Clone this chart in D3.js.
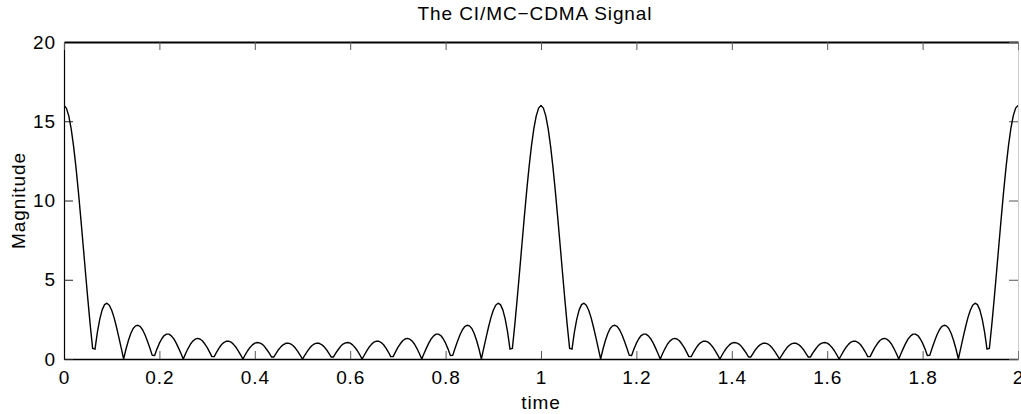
<!DOCTYPE html>
<html>
<head>
<meta charset="utf-8">
<script src="https://cdn.jsdelivr.net/npm/d3@7"></script>
<style>
  html, body { margin: 0; padding: 0; background: #fff; }
  svg { display: block; font-family: "Liberation Sans", Arial, Helvetica, sans-serif; }
  svg text { letter-spacing: 0.9px; }
  .tick text { font-size: 19px; fill: #000; }
</style>
</head>
<body>
<div id="chart"></div>
<script>
// signal magnitude (one sample every timeStep)
const timeStep = 0.005;
const magnitude = [
  16.00,15.83,15.34,14.53,13.45,12.12,10.61,8.95,7.22,5.47,3.76,
  2.14,0.67,0.62,1.69,2.52,3.10,3.43,3.52,3.39,3.08,
  2.61,2.02,1.36,0.68,0,0.63,1.17,1.61,1.92,2.09,
  2.13,2.04,1.83,1.51,1.12,0.69,0.23,0.22,0.64,1.00,
  1.28,1.48,1.57,1.57,1.46,1.28,1.02,0.70,0.36,0,
  0.35,0.66,0.93,1.13,1.25,1.30,1.26,1.15,0.96,0.73,
  0.45,0.15,0.15,0.44,0.69,0.90,1.04,1.12,1.13,1.07,
  0.94,0.76,0.53,0.27,0,0.27,0.52,0.73,0.89,1.00,
  1.04,1.02,0.94,0.80,0.60,0.38,0.13,0.13,0.37,0.60,
  0.78,0.91,0.99,1.00,0.95,0.85,0.69,0.48,0.25,0,
  0.25,0.48,0.69,0.85,0.95,1.00,0.99,0.91,0.78,0.60,
  0.37,0.13,0.13,0.38,0.60,0.80,0.94,1.02,1.04,1.00,
  0.89,0.73,0.52,0.27,0,0.27,0.53,0.76,0.94,1.07,
  1.13,1.12,1.04,0.90,0.69,0.44,0.15,0.15,0.45,0.73,
  0.96,1.15,1.26,1.30,1.25,1.13,0.93,0.66,0.35,0,
  0.36,0.70,1.02,1.28,1.46,1.57,1.57,1.48,1.28,1.00,
  0.64,0.22,0.23,0.69,1.12,1.51,1.83,2.04,2.13,2.09,
  1.92,1.61,1.17,0.63,0,0.68,1.36,2.02,2.61,3.08,
  3.39,3.52,3.43,3.10,2.52,1.69,0.62,0.67,2.14,3.76,
  5.47,7.22,8.95,10.61,12.12,13.45,14.53,15.34,15.83,16.00,
  15.83,15.34,14.53,13.45,12.12,10.61,8.95,7.22,5.47,3.76,
  2.14,0.67,0.62,1.69,2.52,3.10,3.43,3.52,3.39,3.08,
  2.61,2.02,1.36,0.68,0,0.63,1.17,1.61,1.92,2.09,
  2.13,2.04,1.83,1.51,1.12,0.69,0.23,0.22,0.64,1.00,
  1.28,1.48,1.57,1.57,1.46,1.28,1.02,0.70,0.36,0,
  0.35,0.66,0.93,1.13,1.25,1.30,1.26,1.15,0.96,0.73,
  0.45,0.15,0.15,0.44,0.69,0.90,1.04,1.12,1.13,1.07,
  0.94,0.76,0.53,0.27,0,0.27,0.52,0.73,0.89,1.00,
  1.04,1.02,0.94,0.80,0.60,0.38,0.13,0.13,0.37,0.60,
  0.78,0.91,0.99,1.00,0.95,0.85,0.69,0.48,0.25,0,
  0.25,0.48,0.69,0.85,0.95,1.00,0.99,0.91,0.78,0.60,
  0.37,0.13,0.13,0.38,0.60,0.80,0.94,1.02,1.04,1.00,
  0.89,0.73,0.52,0.27,0,0.27,0.53,0.76,0.94,1.07,
  1.13,1.12,1.04,0.90,0.69,0.44,0.15,0.15,0.45,0.73,
  0.96,1.15,1.26,1.30,1.25,1.13,0.93,0.66,0.35,0,
  0.36,0.70,1.02,1.28,1.46,1.57,1.57,1.48,1.28,1.00,
  0.64,0.22,0.23,0.69,1.12,1.51,1.83,2.04,2.13,2.09,
  1.92,1.61,1.17,0.63,0,0.68,1.36,2.02,2.61,3.08,
  3.39,3.52,3.43,3.10,2.52,1.69,0.62,0.67,2.14,3.76,
  5.47,7.22,8.95,10.61,12.12,13.45,14.53,15.34,15.83,16.00
];

const xTicks = [0, 0.2, 0.4, 0.6, 0.8, 1, 1.2, 1.4, 1.6, 1.8, 2];
const xTickLabels = ["0", "0.2", "0.4", "0.6", "0.8", "1", "1.2", "1.4", "1.6", "1.8", "2"];
const yTicks = [0, 5, 10, 15, 20];
const yTickLabels = ["0", "5", "10", "15", "20"];

const chartTitle = "The CI/MC\u2212CDMA Signal";
const xTitle = "time";
const yTitle = "Magnitude";

const W = 1021, H = 414;
const margin = {top: 42, right: 3, bottom: 55, left: 64};
const width = W - margin.left - margin.right;
const height = H - margin.top - margin.bottom;

const svg = d3.select("#chart").append("svg")
    .attr("width", W)
    .attr("height", H);

const g = svg.append("g")
    .attr("transform", `translate(${margin.left},${margin.top})`);

const x = d3.scaleLinear().domain([0, 2]).range([0, width]);
const y = d3.scaleLinear().domain([0, 20]).range([height, 0]);

// axes, matlab style: ticks point inward, box all round
const bottomAxis = d3.axisBottom(x).tickValues(xTicks)
    .tickFormat((d, i) => xTickLabels[i]).tickSizeInner(-8).tickSizeOuter(0).tickPadding(12);
const leftAxis = d3.axisLeft(y).tickValues(yTicks)
    .tickFormat((d, i) => yTickLabels[i]).tickSizeInner(-9).tickSizeOuter(0).tickPadding(8);

const gx = g.append("g").attr("transform", `translate(0,${height})`).call(bottomAxis);
const gy = g.append("g").call(leftAxis);
gx.select(".domain").attr("stroke", "#000").attr("stroke-width", 1.4);
gy.select(".domain").attr("stroke", "#000").attr("stroke-width", 1.2);
gx.selectAll(".tick line").attr("stroke", "#555");
gy.selectAll(".tick line").attr("stroke", "#222");

// top and right ticks
const topAxis = d3.axisTop(x).tickValues(xTicks).tickFormat("").tickSizeInner(-8).tickSizeOuter(0);
const rightAxis = d3.axisRight(y).tickValues(yTicks).tickFormat("").tickSizeInner(-9).tickSizeOuter(0);
const gt = g.append("g").call(topAxis);
const gr = g.append("g").attr("transform", `translate(${width},0)`).call(rightAxis);
gt.select(".domain").attr("stroke", "#000").attr("stroke-width", 2);
gt.selectAll(".tick line").attr("stroke", "#555");
gr.select(".domain").attr("stroke", "#999").attr("stroke-width", 1).attr("stroke-dasharray", "1,1");
gr.selectAll(".tick line").attr("stroke", "#555");

// signal
g.append("clipPath").attr("id", "clip")
  .append("rect").attr("x", 0).attr("y", -2).attr("width", width).attr("height", height + 2);

const line = d3.line()
    .x((d, i) => x(i * timeStep))
    .y(d => y(d));

g.append("path")
    .datum(magnitude)
    .attr("clip-path", "url(#clip)")
    .attr("fill", "none")
    .attr("stroke", "#000")
    .attr("stroke-width", 1.4)
    .attr("stroke-linejoin", "round")
    .attr("d", line);

// labels
svg.append("text")
    .attr("x", 535).attr("y", 20)
    .attr("text-anchor", "middle")
    .attr("font-size", 19)
    .text(chartTitle);

svg.append("text")
    .attr("x", margin.left + width / 2).attr("y", 409)
    .attr("text-anchor", "middle")
    .attr("font-size", 19)
    .text(xTitle);

svg.append("text")
    .attr("transform", `translate(25,${margin.top + height / 2}) rotate(-90)`)
    .attr("text-anchor", "middle")
    .attr("font-size", 19)
    .text(yTitle);
</script>
</body>
</html>
